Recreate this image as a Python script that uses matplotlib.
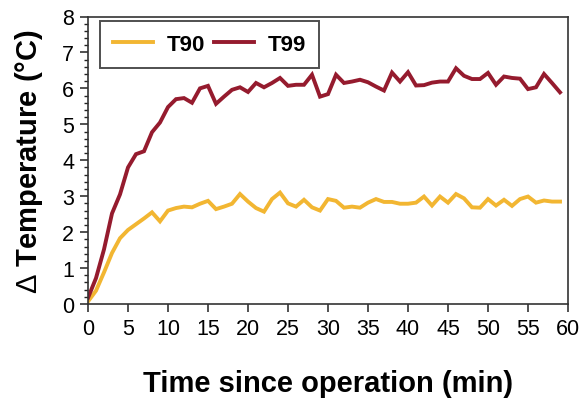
import matplotlib
matplotlib.use("Agg")
import matplotlib.pyplot as plt
from matplotlib.ticker import MultipleLocator

plt.rcParams['font.family'] = ['Liberation Sans', 'DejaVu Sans']
plt.rcParams['mathtext.fontset'] = 'custom'
plt.rcParams['mathtext.rm'] = 'Liberation Sans'
plt.rcParams['mathtext.it'] = 'Liberation Sans:italic'
plt.rcParams['mathtext.bf'] = 'Liberation Sans:bold'

time_min = list(range(0, 60))
t90 = [0.07, 0.37, 0.88, 1.42, 1.83, 2.06, 2.22, 2.38, 2.55, 2.30, 2.60, 2.67, 2.71, 2.69, 2.79, 2.87,
       2.64, 2.71, 2.79, 3.06, 2.85, 2.67, 2.57, 2.92, 3.10, 2.80, 2.71, 2.90, 2.69, 2.60,
       2.92, 2.87, 2.68, 2.71, 2.68, 2.82, 2.92, 2.84, 2.84, 2.79, 2.79, 2.82, 2.99, 2.74,
       2.99, 2.82, 3.06, 2.94, 2.69, 2.68, 2.92, 2.74, 2.90, 2.73, 2.92, 2.99, 2.82, 2.88,
       2.85, 2.85]
t99 = [0.17, 0.72, 1.52, 2.52, 3.05, 3.80, 4.17, 4.25, 4.78, 5.05, 5.48, 5.70, 5.73, 5.60, 6.00, 6.07,
       5.57, 5.77, 5.96, 6.03, 5.90, 6.15, 6.03, 6.15, 6.29, 6.07, 6.10, 6.10, 6.38, 5.77,
       5.84, 6.38, 6.15, 6.19, 6.24, 6.17, 6.05, 5.94, 6.44, 6.19, 6.45, 6.08, 6.09, 6.16,
       6.19, 6.19, 6.56, 6.35, 6.26, 6.26, 6.43, 6.10, 6.33, 6.29, 6.27, 5.98, 6.03, 6.40,
       6.15, 5.89]
x_ticks = list(range(0, 61, 5))
y_ticks = list(range(0, 9))

fig = plt.figure(figsize=(5.82, 4.02), dpi=100)
ax = fig.add_axes([88/582, 1-305/402, 480/582, 287.5/402])

ax.plot(time_min, t90, color='#F2B632', lw=2.8, label='T90', solid_joinstyle='miter')
ax.plot(time_min, t99, color='#951B2E', lw=2.8, label='T99', solid_joinstyle='miter')

ax.set_xlim(0, 60)
ax.set_ylim(0, 8)
ax.set_xticks(x_ticks)
ax.set_yticks(y_ticks)
ax.yaxis.set_minor_locator(MultipleLocator(0.2))
ax.tick_params(axis='both', which='major', direction='out', length=6, width=1.1,
               labelsize=15.5, pad=4, colors='#222222', labelcolor='black')
ax.tick_params(axis='y', which='minor', direction='out', length=3, width=1.0, colors='#222222')
for s in ax.spines.values():
    s.set_linewidth(1.2)
    s.set_color('#333333')

ax.set_xlabel('Time since operation (min)', fontsize=21, fontweight='bold', labelpad=22)
ax.set_ylabel(r'$\Delta$ Temperature (°C)', fontsize=21, fontweight='bold', labelpad=12)

leg = ax.legend(loc='upper left', bbox_to_anchor=(0.025, 0.985), ncol=2, frameon=True,
                fancybox=False, edgecolor='#222222', borderaxespad=0,
                prop={'weight': 'bold', 'size': 16}, handlelength=1.8, handletextpad=0.6,
                columnspacing=0.4, borderpad=0.6)
leg.get_frame().set_linewidth(1.4)

fig.savefig('out.png', dpi=100)
